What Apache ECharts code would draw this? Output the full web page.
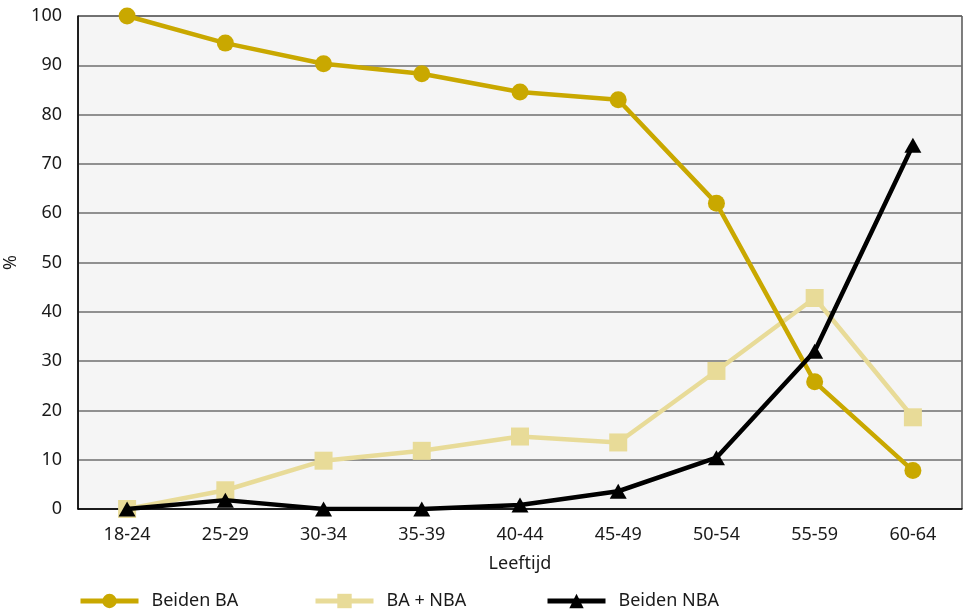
<!DOCTYPE html>
<html><head><meta charset="utf-8">
<script src="https://cdn.jsdelivr.net/npm/echarts@6/dist/echarts.min.js"></script>
<style>html,body{margin:0;padding:0;background:#fff}#c{width:964px;height:611px}</style>
</head><body><div id="c"></div>
<script>
const categories = ['18-24','25-29','30-34','35-39','40-44','45-49','50-54','55-59','60-64'];
const beidenBA = [100, 94.5, 90.3, 88.3, 84.6, 83, 62, 25.8, 7.8];
const baNba = [0, 3.8, 9.8, 11.8, 14.7, 13.5, 28, 42.8, 18.6];
const beidenNBA = [0, 1.8, 0, 0, 0.8, 3.6, 10.4, 32, 73.8];
const yTicks = [0,10,20,30,40,50,60,70,80,90,100];

const font = 'Noto Sans';
const chart = echarts.init(document.getElementById('c'), null, {renderer:'canvas'});
function legend(name, left){
  return {data:[name], left:left, top:592, padding:0, itemWidth:58, itemHeight:18, itemGap:0,
    lineStyle:{width:5}, itemStyle:{},
    textStyle:{fontFamily:font, fontSize:18, color:'#1a1a1a', padding:[0,0,0,8]}, selectedMode:false};
}
chart.setOption({
  animation:false,
  textStyle:{fontFamily:font},
  grid:{left:78, right:2, top:16, bottom:102, outerBoundsMode:'none', containLabel:false,
    show:true, backgroundColor:'#f5f5f5', borderColor:'#000', borderWidth:1},
  legend:[legend('Beiden BA',78), legend('BA + NBA',313), legend('Beiden NBA',545)],
  xAxis:{type:'category', data:categories, boundaryGap:true,
    name:'Leeftijd', nameLocation:'middle', nameGap:46,
    nameTextStyle:{fontFamily:font, fontSize:18, color:'#1a1a1a'},
    axisLine:{lineStyle:{color:'#000', width:1.5}},
    axisTick:{inside:true, length:12, lineStyle:{color:'#444', width:1}},
    axisLabel:{fontFamily:font, fontSize:18, color:'#1a1a1a', margin:17},
    splitLine:{show:false}},
  yAxis:{type:'value', min:0, max:100, interval:10,
    name:'%', nameLocation:'middle', nameGap:54, nameRotate:90,
    nameTextStyle:{fontFamily:font, fontSize:18, color:'#1a1a1a'},
    axisLine:{show:true, lineStyle:{color:'#000', width:1.5}},
    axisTick:{show:false},
    axisLabel:{fontFamily:font, fontSize:18, color:'#1a1a1a', margin:16,
      formatter:v=>yTicks.includes(v)?String(v):''},
    splitLine:{show:true, lineStyle:{color:'#6e6e6e', width:1.5}}},
  series:[
    {name:'Beiden BA', type:'line', data:beidenBA, symbol:'circle', symbolSize:17,
      lineStyle:{color:'#c9a800', width:4.5}, itemStyle:{color:'#c9a800'}, z:3},
    {name:'BA + NBA', type:'line', data:baNba, symbol:'rect', symbolSize:18,
      lineStyle:{color:'#e8db98', width:4.5}, itemStyle:{color:'#e8db98'}, z:2},
    {name:'Beiden NBA', type:'line', data:beidenNBA, symbol:'triangle', symbolSize:[17,15],
      lineStyle:{color:'#000', width:4.5}, itemStyle:{color:'#000'}, z:4}
  ]
});
</script></body></html>
